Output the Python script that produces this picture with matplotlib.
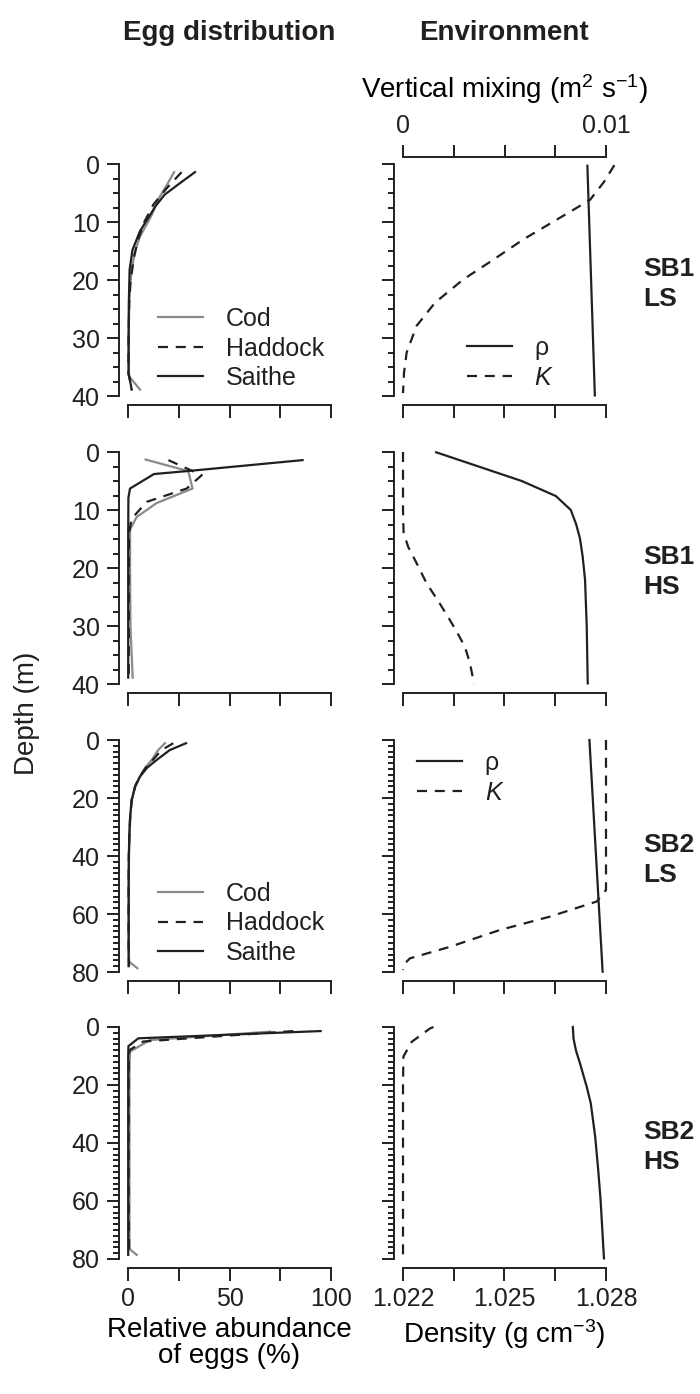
#%% imports

import matplotlib
matplotlib.use('Agg')
import matplotlib.pyplot as plt
from matplotlib.ticker import MultipleLocator

plt.rcParams['font.family'] = ['Liberation Sans', 'DejaVu Sans']
plt.rcParams['mathtext.fontset'] = 'custom'
plt.rcParams['mathtext.rm'] = 'Liberation Sans'
plt.rcParams['mathtext.it'] = 'Liberation Sans:italic'

ink = '#231f20'
grey = '#8a8a8a'
plt.rcParams['text.color'] = ink
plt.rcParams['axes.edgecolor'] = ink
plt.rcParams['xtick.color'] = ink
plt.rcParams['ytick.color'] = ink

#%% data - egg distribution (relative abundance %, depth m)

row_names = ['SB1\nLS', 'SB1\nHS', 'SB2\nLS', 'SB2\nHS']
max_depth = [40, 40, 80, 80]

# SB1 LS
cod1_z = [1.4, 4, 6, 8.8, 12.5, 15, 18.2, 21, 24, 28, 32, 36.5, 38.9]
cod1_x = [22.7, 18.5, 15, 11.7, 5.9, 3.5, 1.8, 1.0, 0.6, 0.4, 0.3, 0.3, 5.9]
had1_z = [1.4, 4.2, 7, 10, 13, 16, 20, 24, 30, 36, 38.9]
had1_x = [26.4, 19, 12.5, 8, 5, 3, 1.3, 0.6, 0.3, 0.2, 1.8]
sai1_z = [1.4, 3.3, 5.3, 7.3, 9.0, 11.5, 14.8, 18.2, 24, 30, 36, 38.9]
sai1_x = [33, 25.6, 18, 13.5, 10.5, 6, 2.2, 0.8, 0.4, 0.3, 0.3, 1.8]

# SB1 HS
cod2_z = [1.3, 3.3, 6.3, 8.8, 11.2, 13.4, 20, 30, 38.9]
cod2_x = [8.7, 29.7, 31.8, 14.1, 4.3, 1.0, 1.0, 1.2, 2.3]
had2_z = [1.4, 4.0, 6.3, 8.6, 11.5, 14, 20, 30, 38.9]
had2_x = [19.9, 36.3, 28.9, 9.2, 1.8, 0.5, 0.4, 0.4, 0.4]
sai2_z = [1.4, 3.2, 3.8, 6.3, 7.9, 14, 20, 30, 38.9]
sai2_x = [86, 32, 12.8, 1.0, 0.2, 0.1, 0.1, 0.1, 0.1]

# SB2 LS
cod3_z = [1.1, 3.5, 6.9, 9.5, 12.6, 16, 20.7, 26, 31.7, 40, 50, 60, 70, 76.4, 78.7]
cod3_x = [18.2, 14.8, 11.7, 8.5, 5.9, 3.6, 1.9, 1.2, 0.8, 0.5, 0.4, 0.4, 0.4, 0.5, 4.6]
had3_z = [1.1, 3.5, 6.9, 9.5, 12.6, 16, 20.7, 26, 31.7, 40, 50, 60, 70, 78]
had3_x = [22.3, 16.5, 12.2, 8.8, 5.8, 3.5, 1.8, 1.1, 0.7, 0.4, 0.3, 0.3, 0.3, 0.5]
sai3_z = [1.1, 3.5, 6.9, 9.5, 12.6, 16, 20.7, 26, 31.7, 40, 50, 60, 70, 78]
sai3_x = [28.6, 20.5, 14.1, 9.5, 5.9, 3.5, 1.8, 1.1, 0.7, 0.4, 0.3, 0.3, 0.3, 0.3]

# SB2 HS
cod4_z = [1.6, 4.5, 8.5, 12, 20, 40, 60, 76.5, 78.6]
cod4_x = [70, 10.8, 1.0, 0.8, 0.7, 0.7, 0.7, 0.7, 4.3]
had4_z = [1.4, 5.0, 8.0, 12, 20, 40, 60, 78.6]
had4_x = [81.4, 7.5, 0.7, 0.4, 0.3, 0.3, 0.3, 0.6]
sai4_z = [1.4, 3.9, 6.6, 10, 20, 40, 60, 78.6]
sai4_x = [94.9, 5.1, 0.2, 0.1, 0.1, 0.1, 0.1, 0.1]

#%% data - environment (density g cm-3, mixing m2 s-1)

rho1_z = [0.3, 39.9]
rho1_x = [1.02745, 1.02767]
k1_z = [0.2, 3, 6.2, 9.6, 13.0, 16.5, 19.9, 23.9, 27.9, 32.5, 36, 39.5]
k1_x = [0.01041, 0.00992, 0.00921, 0.00757, 0.00593, 0.00445, 0.00297, 0.00158, 0.00067, 0.00018, 0.00005, 0.0]

rho2_z = [0.05, 5.0, 7.6, 10.0, 12.5, 14.9, 18, 22, 30, 39.9]
rho2_x = [1.02298, 1.02551, 1.02652, 1.02696, 1.02712, 1.02723, 1.02731, 1.02738, 1.02743, 1.02746]
k2_z = [0, 5, 10, 14, 16.4, 19.5, 22.7, 25.5, 28.5, 31, 33.6, 36.4, 40]
k2_x = [0, 0, 0, 0.00003, 0.00026, 0.00072, 0.00117, 0.00170, 0.00223, 0.00265, 0.00305, 0.0033, 0.0035]

rho3_z = [0, 79.9]
rho3_x = [1.02751, 1.0279]
k3_z = [0, 20, 40, 51.7, 53.4, 55.7, 60.9, 65.5, 71.3, 75.3, 77, 79.3]
k3_x = [0.01, 0.01, 0.01, 0.01, 0.0098, 0.00954, 0.00724, 0.00478, 0.00232, 0.00034, 0.0001, 0.0]

rho4_z = [0, 4, 8, 12.5, 20.6, 26.3, 37.8, 49.3, 59.7, 79.8]
rho4_x = [1.02702, 1.02704, 1.02711, 1.02723, 1.02743, 1.02755, 1.02768, 1.02777, 1.02784, 1.02794]
k4_z = [0, 0.5, 5.1, 10.2, 20, 40, 60, 80]
k4_x = [0.0015, 0.00133, 0.00043, 0.00002, 0, 0, 0, 0]

eggs = [
    [(cod1_x, cod1_z), (had1_x, had1_z), (sai1_x, sai1_z)],
    [(cod2_x, cod2_z), (had2_x, had2_z), (sai2_x, sai2_z)],
    [(cod3_x, cod3_z), (had3_x, had3_z), (sai3_x, sai3_z)],
    [(cod4_x, cod4_z), (had4_x, had4_z), (sai4_x, sai4_z)],
]
env = [
    [(rho1_x, rho1_z), (k1_x, k1_z)],
    [(rho2_x, rho2_z), (k2_x, k2_z)],
    [(rho3_x, rho3_z), (k3_x, k3_z)],
    [(rho4_x, rho4_z), (k4_x, k4_z)],
]

#%% figure

W, H = 700, 1394
fig = plt.figure(figsize=(W / 100, H / 100), dpi=100)

def px_axes(x, top, w, h):
    return fig.add_axes([x / W, 1 - (top + h) / H, w / W, h / H])

def style(ax, zmax):
    ax.set_ylim(zmax, 0)
    ax.spines[['top', 'right']].set_visible(False)
    for s in ['left', 'bottom']:
        ax.spines[s].set_position(('outward', 6.5))
        ax.spines[s].set_linewidth(1.4)
    ax.tick_params(which='major', direction='out', length=9, width=1.4, labelsize=18, pad=5)
    ax.tick_params(which='minor', direction='out', length=4.5, width=1.4)
    if zmax == 40:
        ax.set_yticks([0, 10, 20, 30, 40])
        ax.yaxis.set_minor_locator(MultipleLocator(2.5))
    else:
        ax.set_yticks([0, 20, 40, 60, 80])
        ax.yaxis.set_minor_locator(MultipleLocator(2))

dash = (0, (4.5, 3.5))
lw = 1.6
row_tops = [164, 452, 740, 1027]
leg_kw = dict(frameon=False, fontsize=18, handlelength=1.8, handletextpad=0.9,
              labelspacing=0.22, borderpad=0, borderaxespad=0, loc='upper left')

for i in range(4):
    top = row_tops[i]
    last = i == 3

    # egg distribution
    axL = px_axes(128, top, 203, 232)
    style(axL, max_depth[i])
    axL.set_xlim(0, 100)
    axL.set_xticks([0, 25, 50, 75, 100])
    (cx, cz), (hx, hz), (sx, sz) = eggs[i]
    axL.plot(cx, cz, color=grey, lw=lw, label='Cod', clip_on=False)
    axL.plot(hx, hz, color=ink, lw=lw, ls=dash, label='Haddock', clip_on=False)
    axL.plot(sx, sz, color=ink, lw=lw, label='Saithe', clip_on=False)
    if last:
        axL.set_xticklabels(['0', '', '50', '', '100'])
        axL.set_xlabel('Relative abundance\nof eggs (%)', fontsize=20, linespacing=1.0, labelpad=4)
    else:
        axL.set_xticklabels([])
    if i == 0:
        axL.legend(bbox_to_anchor=(0.148, 0.383), **leg_kw)
    if i == 2:
        axL.legend(bbox_to_anchor=(0.148, 0.388), **leg_kw)

    # environment
    axR = px_axes(403, top, 203, 232)
    style(axR, max_depth[i])
    axR.set_xlim(1.022, 1.028)
    axR.set_xticks([1.022, 1.0235, 1.025, 1.0265, 1.028])
    axR.set_yticklabels([])
    axK = axR.twiny()
    axK.set_xlim(0, 0.01)
    axK.spines[['left', 'right', 'bottom']].set_visible(False)
    (rx, rz), (kx, kz) = env[i]
    l1, = axR.plot(rx, rz, color=ink, lw=lw, clip_on=False)
    l2, = axK.plot(kx, kz, color=ink, lw=lw, ls=dash, clip_on=False)
    if last:
        axR.set_xticklabels(['1.022', '', '1.025', '', '1.028'])
        axR.set_xlabel('Density (g cm$^{-3}$)', fontsize=20, labelpad=4)
    else:
        axR.set_xticklabels([])
    if i == 0:
        axK.spines['top'].set_position(('outward', 5))
        axK.spines['top'].set_linewidth(1.4)
        axK.set_xticks([0, 0.0025, 0.005, 0.0075, 0.01])
        axK.set_xticklabels(['0', '', '', '', '0.01'])
        axK.tick_params(direction='out', length=9, width=1.4, labelsize=18, pad=5)
        axK.set_xlabel('Vertical mixing (m$^2$ s$^{-1}$)', fontsize=20, labelpad=11)
        axK.legend([l1, l2], ['ρ', '$K$'], bbox_to_anchor=(0.315, 0.258), **leg_kw)
    else:
        axK.spines['top'].set_visible(False)
        axK.set_xticks([])
    if i == 2:
        axK.legend([l1, l2], ['ρ', '$K$'], bbox_to_anchor=(0.069, 0.952), **leg_kw)

    fig.text(643 / W, 1 - (top + 120) / H, row_names[i], fontsize=19, fontweight='bold',
             ha='left', va='center', linespacing=1.3)

fig.text(229.5 / W, 1 - 33 / H, 'Egg distribution', fontsize=20, fontweight='bold', ha='center', va='center')
fig.text(504 / W, 1 - 33 / H, 'Environment', fontsize=20, fontweight='bold', ha='center', va='center')
fig.text(27 / W, 1 - 713 / H, 'Depth (m)', fontsize=20, rotation=90, ha='center', va='center')

fig.savefig('out.png', dpi=100)
